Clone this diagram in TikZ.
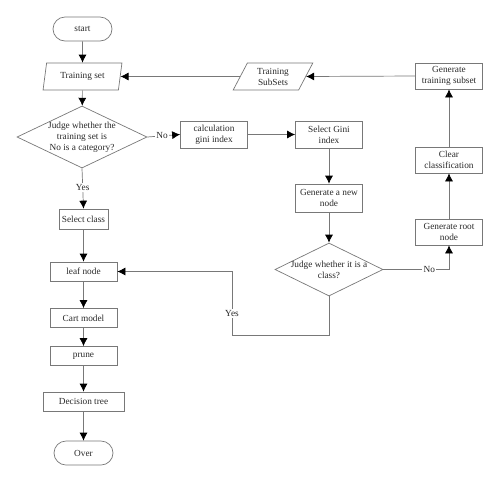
\documentclass[tikz,border=0pt]{standalone}
\usepackage{fontspec}
\setmainfont{Liberation Serif}
\usetikzlibrary{shapes.geometric,shapes.misc,arrows.meta}
\definecolor{linegray}{RGB}{120,120,120}
\definecolor{textgray}{RGB}{40,40,40}

\begin{document}
\begin{tikzpicture}[x=1pt,y=-1pt,
  font=\fontsize{9.3}{11}\selectfont,
  every node/.style={align=center,inner sep=0pt,text=textgray},
  box/.style={draw=linegray,line width=0.7pt,rectangle,minimum width=67pt,minimum height=27pt},
  term/.style={draw=linegray,line width=0.7pt,rounded rectangle,minimum width=59pt,minimum height=24pt},
  iobox/.style={draw=linegray,line width=0.7pt,trapezium,trapezium stretches=true,minimum height=27pt},
  decision/.style={draw=linegray,line width=0.7pt,diamond},
  arr/.style={draw=linegray,line width=0.7pt,-{Latex[color=black,length=8pt,width=8pt]}},
  lbl/.style={fill=white,inner sep=1.5pt}]

\useasboundingbox (0,0) rectangle (500,483);

% main column
\node[term] (start) at (82.5,29) {start};
\node[iobox,trapezium left angle=75,trapezium right angle=105,minimum width=79pt] (tset) at (82.5,76.5) {Training set};
\node[decision,minimum width=130pt,minimum height=62pt,
  label={[align=center]center:Judge whether the\\training set is\\No is a category?}] (d1) at (82,137) {};
\node[box,minimum width=49pt,minimum height=20pt] (sclass) at (83.5,219) {Select class};
\node[box,minimum height=19pt] (leaf) at (83.5,271.5) {leaf node};
\node[box,minimum height=19pt] (cart) at (83.5,318) {Cart model};
\node[box,minimum height=19pt] (prune) at (83.5,356) {prune};
\node[box,minimum width=81pt,minimum height=19pt] (dtree) at (83.5,401.5) {Decision tree};
\node[term] (over) at (83.5,453) {Over};

% right part
\node[box] (calc) at (214,134.5) {calculation\\gini index};
\node[box] (sel) at (329,134.5) {Select Gini\\index};
\node[box,minimum height=28pt] (gnew) at (329,198) {Generate a new\\node};
\node[decision,minimum width=108pt,minimum height=53pt,
  label={[align=center]center:Judge whether it is a\\class?}] (d2) at (329,269.5) {};
\node[box,minimum height=26pt] (groot) at (449,232) {Generate root\\node};
\node[box,minimum height=26pt] (clear) at (449,160) {Clear\\classification};
\node[box,minimum height=26pt] (gsub) at (449,76) {Generate\\training subset};
\node[iobox,trapezium left angle=63,trapezium right angle=117,minimum width=80pt] (tsub) at (273,76.5) {Training\\SubSets};

\coordinate (yb) at (232,335);

% connectors
\draw[arr] (start) -- (tset);
\draw[arr] (tset) -- (d1);
\draw[arr] (d1.south) -- node[lbl,pos=0.48] {Yes} (sclass.north);
\draw[arr] (sclass) -- (leaf);
\draw[arr] (leaf) -- (cart);
\draw[arr] (cart) -- (prune);
\draw[arr] (prune) -- (dtree);
\draw[arr] (dtree) -- (over);
\draw[arr] (d1.east) -- node[lbl,pos=0.45] {No} (calc.west);
\draw[arr] (calc) -- (sel);
\draw[arr] (sel) -- (gnew);
\draw[arr] (gnew) -- (d2.north);
\draw[arr] (d2.east) -| node[lbl,pos=0.35] {No} (groot.south);
\draw[arr] (groot) -- (clear);
\draw[arr] (clear) -- (gsub);
\draw[arr] (gsub.west) -- (tsub.east);
\draw[arr] (tsub.west) -- (tset.east);
\draw[arr] (d2.south) |- (yb) |- node[lbl,pos=0.17] {Yes} (leaf.east);
\end{tikzpicture}
\end{document}
